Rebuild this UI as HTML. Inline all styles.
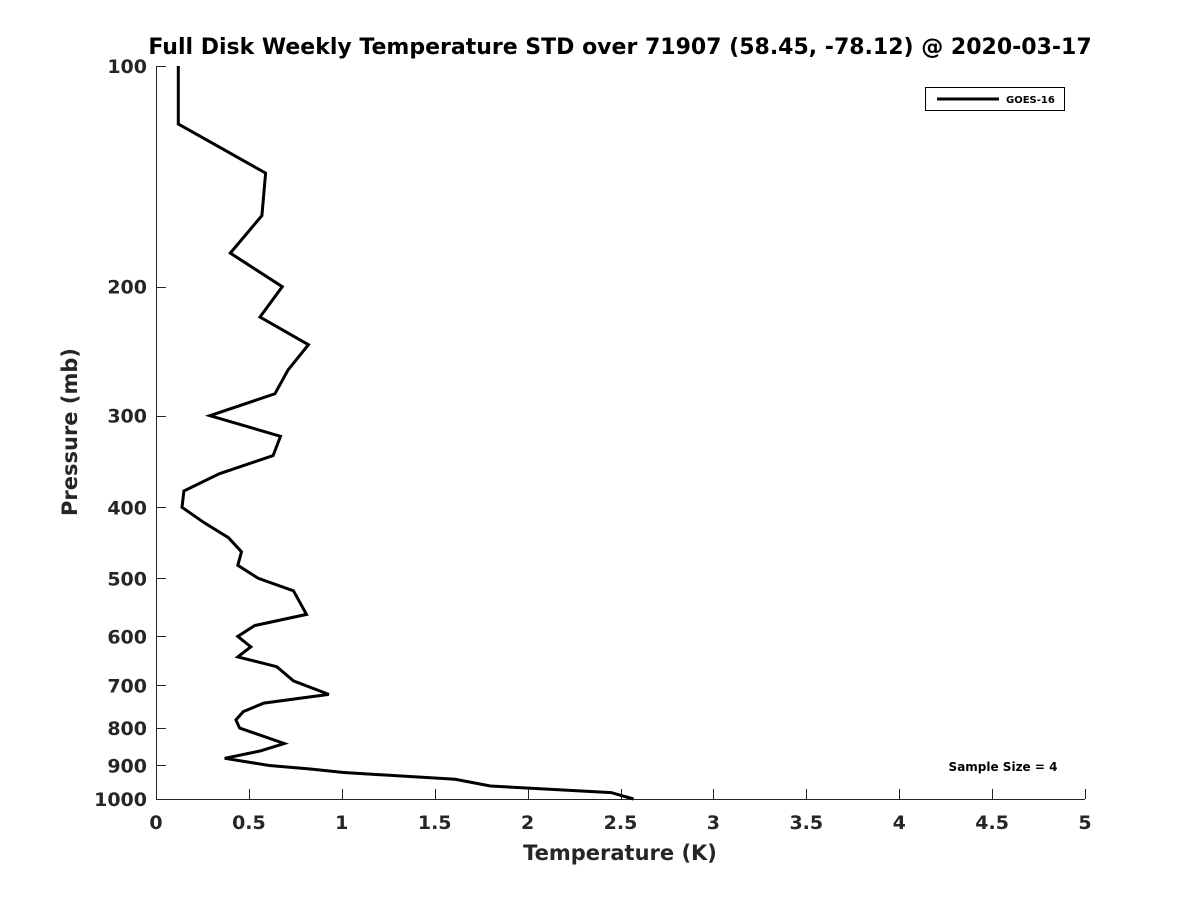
<!DOCTYPE html>
<html><head><meta charset="utf-8"><style>
html,body{margin:0;padding:0;background:#fff;}
svg{display:block;font-family:"DejaVu Sans","Liberation Sans",sans-serif;}
</style></head><body>
<svg id="chart" width="1200" height="900" viewBox="0 0 1200 900">
<rect x="0" y="0" width="1200" height="900" fill="#fff"/>
<text x="620" y="54" text-anchor="middle" font-size="22" font-weight="bold" fill="#000">Full Disk Weekly Temperature STD over 71907 (58.45, -78.12) @ 2020-03-17</text>
<g id="axes"></g>
<g id="series"></g>
<g>
<rect x="925.5" y="87.5" width="139" height="23" fill="#fff" stroke="#000" stroke-width="1"/>
<line x1="937" y1="99" x2="999" y2="99" stroke="#000" stroke-width="3"/>
<text x="1006" y="103" font-size="10" font-weight="bold" fill="#000">GOES-16</text>
</g>
<text x="1003" y="771" text-anchor="middle" font-size="12" font-weight="bold" fill="#000">Sample Size = 4</text>
<text x="620" y="860" text-anchor="middle" font-size="21" font-weight="bold" fill="#262626">Temperature (K)</text>
<text transform="translate(77,432) rotate(-90)" text-anchor="middle" font-size="21" font-weight="bold" fill="#262626">Pressure (mb)</text>
</svg>
<script>
const pressures = [100,120,140,160,180,200,220,240,260,280,300,320,340,360,380,400,420,440,460,480,500,520,560,580,600,620,640,660,690,720,740,760,780,800,840,860,880,900,910,920,940,960,980,1000];
const temps = [0.12,0.12,0.59,0.57,0.40,0.68,0.56,0.82,0.71,0.64,0.29,0.67,0.63,0.34,0.15,0.14,0.26,0.39,0.46,0.44,0.55,0.74,0.81,0.53,0.44,0.51,0.44,0.65,0.74,0.93,0.58,0.47,0.43,0.45,0.69,0.56,0.37,0.61,0.83,1.01,1.61,1.80,2.45,2.57];
const xTicks = [0,0.5,1,1.5,2,2.5,3,3.5,4,4.5,5];
const xTickLabels = ["0","0.5","1","1.5","2","2.5","3","3.5","4","4.5","5"];
const yTicks = [100,200,300,400,500,600,700,800,900,1000];
const yTickLabels = ["100","200","300","400","500","600","700","800","900","1000"];

const X0=156, X1=1085, Y0=66, Y1=799, XMIN=0, XMAX=5;
function xs(v){return X0+(v-XMIN)/(XMAX-XMIN)*(X1-X0);}
function ys(p){return Y0+(Math.log10(p)-2)*(Y1-Y0);}
const NS="http://www.w3.org/2000/svg";
function mk(tag,attrs,parent){const e=document.createElementNS(NS,tag);for(const k in attrs)e.setAttribute(k,attrs[k]);parent.appendChild(e);return e;}
const axes=document.getElementById('axes');
let a=mk('line',{x1:X0,y1:Y1+0.5,x2:X1,y2:Y1+0.5,stroke:'#262626','stroke-width':1},axes);


a=mk('line',{x1:X0+0.5,y1:Y0,x2:X0+0.5,y2:Y1,stroke:'#262626','stroke-width':1},axes);


xTicks.forEach((v,i)=>{
  const x=Math.round(xs(v))+0.5;
  const t=mk('line',{x1:x,y1:Y1,x2:x,y2:Y1-10,stroke:'#262626','stroke-width':1},axes);
  
  
  const l=mk('text',{x:xs(v),y:Y1+30,'text-anchor':'middle','font-size':19,'font-weight':'bold',fill:'#262626'},axes);
  l.textContent=xTickLabels[i];
  
  
});
yTicks.forEach((p,i)=>{
  const y=Math.round(ys(p))+0.5;
  const t=mk('line',{x1:X0,y1:y,x2:X0+10,y2:y,stroke:'#262626','stroke-width':1},axes);
  
  
  const l=mk('text',{x:X0-9,y:ys(p)+7,'text-anchor':'end','font-size':19,'font-weight':'bold',fill:'#262626'},axes);
  l.textContent=yTickLabels[i];
  
  
});
const series=document.getElementById('series');
const pts=pressures.map((p,i)=>xs(temps[i]).toFixed(1)+','+ys(p).toFixed(1)).join(' ');
const pl=mk('polyline',{points:pts,fill:'none',stroke:'#000','stroke-width':3,'stroke-linejoin':'miter','stroke-miterlimit':4},series);


</script>
</body></html>
